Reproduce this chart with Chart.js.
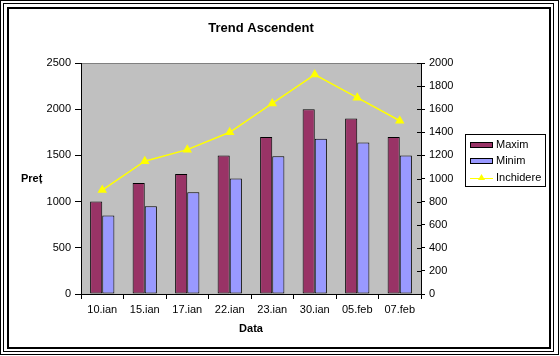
<!DOCTYPE html>
<html>
<head>
<meta charset="utf-8">
<script src="https://cdn.jsdelivr.net/npm/chart.js@4/dist/chart.umd.min.js"></script>
<style>
  html, body { margin: 0; padding: 0; background: #fff; }
  #wrap { width: 560px; height: 356px; position: relative; }
</style>
</head>
<body>
<div id="wrap"><canvas id="c" width="560" height="356"></canvas></div>
<script>
const chartTitle = 'Trend Ascendent';
const xTitle = 'Data';
const yTitle = 'Preț';
const categories = ['10.ian', '15.ian', '17.ian', '22.ian', '23.ian', '30.ian', '05.feb', '07.feb'];
const maximValues = [1000, 1200, 1300, 1500, 1700, 2000, 1900, 1700];
const minimValues = [850, 950, 1100, 1250, 1490, 1680, 1640, 1500];
const inchidereValues = [900, 1150, 1250, 1400, 1650, 1900, 1700, 1500];
const seriesNames = ['Maxim', 'Minim', 'Inchidere'];

const FONT = '"Liberation Sans", Arial, sans-serif';

const decor = {
  id: 'decor',
  beforeDraw(chart) {
    const ctx = chart.ctx;
    const a = chart.chartArea;
    ctx.save();
    ctx.fillStyle = '#fff';
    ctx.fillRect(0, 0, chart.width, chart.height);
    ctx.fillStyle = '#C0C0C0';
    ctx.fillRect(a.left, a.top, a.right - a.left, a.bottom - a.top);
    ctx.strokeStyle = '#808080';
    ctx.lineWidth = 1;
    ctx.beginPath();
    ctx.moveTo(a.left, Math.round(a.top) + 0.5);
    ctx.lineTo(a.right, Math.round(a.top) + 0.5);
    ctx.stroke();
    ctx.restore();
  },
  afterDraw(chart) {
    const ctx = chart.ctx;
    ctx.save();
    // frame
    ctx.strokeStyle = '#000';
    ctx.lineWidth = 1;
    ctx.strokeRect(0.5, 0.5, 558, 354);
    ctx.strokeRect(3.5, 3.5, 550, 348);
    ctx.lineWidth = 2;
    ctx.strokeRect(8, 8, 542, 340);
    // inner ticks of secondary axis
    const s = chart.scales.y1;
    ctx.lineWidth = 1;
    ctx.beginPath();
    s.ticks.forEach(t => {
      const y = Math.round(s.getPixelForValue(t.value)) + 0.5;
      ctx.moveTo(s.left - 4, y);
      ctx.lineTo(s.left, y);
    });
    ctx.stroke();
    // title
    ctx.fillStyle = '#000';
    ctx.font = 'bold 13px ' + FONT;
    ctx.textAlign = 'center';
    ctx.textBaseline = 'alphabetic';
    ctx.fillText(chartTitle, 261, 32);
    // y title (horizontal)
    ctx.font = 'bold 11px ' + FONT;
    ctx.textAlign = 'left';
    ctx.fillText(yTitle, 21, 182);
    // legend
    ctx.lineWidth = 1;
    ctx.strokeStyle = '#000';
    ctx.strokeRect(465.5, 134.5, 80, 52);
    const ds = chart.data.datasets;
    const rows = [144.5, 161, 177.5];
    ctx.font = '11px ' + FONT;
    ds.forEach((d, i) => {
      const cy = rows[i];
      if (d.type === 'line') {
        ctx.strokeStyle = d.borderColor;
        ctx.lineWidth = 1;
        ctx.beginPath();
        ctx.moveTo(470, Math.round(cy) + 0.5);
        ctx.lineTo(493, Math.round(cy) + 0.5);
        ctx.stroke();
        ctx.fillStyle = d.pointBackgroundColor;
        ctx.beginPath();
        ctx.moveTo(481.5, cy - 3.5);
        ctx.lineTo(485, cy + 2.5);
        ctx.lineTo(478, cy + 2.5);
        ctx.closePath();
        ctx.fill();
      } else {
        ctx.fillStyle = d.backgroundColor;
        ctx.fillRect(470, Math.round(cy) - 3, 23, 6);
        ctx.strokeStyle = '#000';
        ctx.strokeRect(470.5, Math.round(cy) - 2.5, 22, 5);
      }
      ctx.fillStyle = '#000';
      ctx.textBaseline = 'middle';
      ctx.fillText(d.label, 496, cy);
    });
    ctx.restore();
  }
};

const tickFont = { family: FONT, size: 11 };
const plain = v => String(v);

new Chart(document.getElementById('c'), {
  type: 'bar',
  data: {
    labels: categories,
    datasets: [
      {
        label: seriesNames[0],
        data: maximValues,
        yAxisID: 'y',
        backgroundColor: '#993366',
        borderColor: '#000',
        borderWidth: 1,
        borderSkipped: false,
        categoryPercentage: 0.571,
        barPercentage: 1.0,
        order: 1
      },
      {
        label: seriesNames[1],
        data: minimValues,
        yAxisID: 'y',
        backgroundColor: '#9999FF',
        borderColor: '#000',
        borderWidth: 1,
        borderSkipped: false,
        categoryPercentage: 0.571,
        barPercentage: 1.0,
        order: 1
      },
      {
        type: 'line',
        label: seriesNames[2],
        data: inchidereValues,
        yAxisID: 'y1',
        borderColor: '#FFFF00',
        backgroundColor: '#FFFF00',
        pointBackgroundColor: '#FFFF00',
        pointBorderColor: '#FFFF00',
        pointStyle: 'triangle',
        pointRadius: 4,
        borderWidth: 1.5,
        tension: 0,
        order: 0
      }
    ]
  },
  options: {
    responsive: false,
    animation: false,
    devicePixelRatio: 1,
    layout: { padding: { top: 63, left: 0, right: 0, bottom: 0 } },
    plugins: {
      legend: { display: false },
      title: { display: false },
      tooltip: { enabled: false }
    },
    scales: {
      x: {
        afterFit(s) { s.height = 62; },
        grid: { drawOnChartArea: false, tickLength: 5, color: '#000', tickColor: '#000' },
        border: { color: '#000', width: 1 },
        ticks: { font: tickFont, color: '#000', padding: 4, maxRotation: 0, autoSkip: false },
        title: { display: true, text: xTitle, font: { family: FONT, size: 11, weight: 'bold' }, color: '#000', padding: { top: 0, bottom: 20 } }
      },
      y: {
        position: 'left',
        min: 0, max: 2500,
        afterFit(s) { s.width = 81; },
        grid: { drawOnChartArea: false, tickLength: 6, color: '#000', tickColor: '#000' },
        border: { color: '#000', width: 1 },
        ticks: { stepSize: 500, font: tickFont, color: '#000', padding: 4, callback: plain }
      },
      y1: {
        position: 'right',
        min: 0, max: 2000,
        afterFit(s) { s.width = 139; },
        grid: { drawOnChartArea: false, tickLength: 4, color: '#000', tickColor: '#000' },
        border: { color: '#000', width: 1 },
        ticks: { stepSize: 200, font: tickFont, color: '#000', padding: 4, callback: plain }
      }
    }
  },
  plugins: [decor]
});
</script>
</body>
</html>
